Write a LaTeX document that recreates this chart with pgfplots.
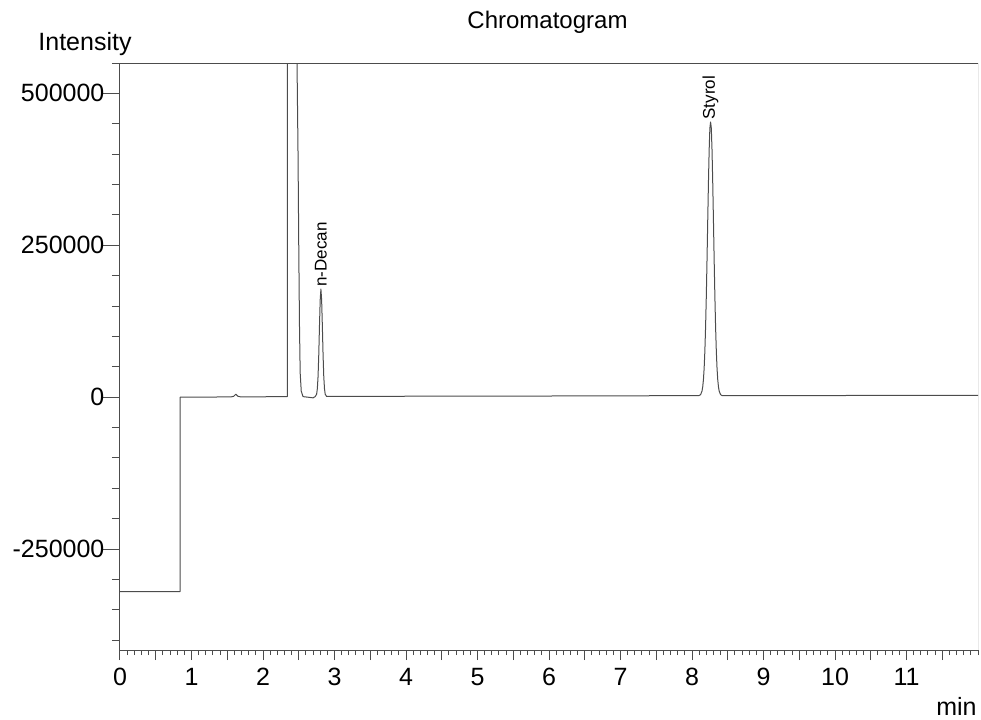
\documentclass[border=0pt]{standalone}
\usepackage{fontspec}
\setmainfont{Liberation Sans}
\usepackage{pgfplots}
\pgfplotsset{compat=1.18}

\begin{document}
\begin{tikzpicture}[x=1pt,y=1pt]
\path[use as bounding box] (0,0) rectangle (490.5,-359.5);
\begin{axis}[
  at={(60pt,-325pt)}, anchor=south west,
  scale only axis, width=429pt, height=293.5pt,
  xmin=0, xmax=12, ymin=-416000, ymax=550000,
  xtick={0,1,...,11}, xticklabels={0,1,2,3,4,5,6,7,8,9,10,11},
  ytick={-250000,0,250000,500000}, yticklabels={-250000,0,250000,500000},
  minor xtick={0,0.1,...,12},
  minor ytick={-400000,-350000,...,550000},
  extra x ticks={0.5,1.5,...,11.5}, extra x tick labels={},
  extra x tick style={/pgfplots/major tick length=3.5pt},
  tick align=outside,
  xtick style={/pgfplots/major tick length=5pt,/pgfplots/minor tick length=2.5pt},
  ytick style={/pgfplots/major tick length=8.5pt,/pgfplots/minor tick length=4pt},
  axis x line*=bottom, axis y line*=left,
  every outer x axis line/.append style={-},
  every outer y axis line/.append style={-},
  axis line style={black!70, line width=0.5pt},
  tick style={black!70, line width=0.5pt},
  tick label style={font=\fontsize{12.5}{15}\selectfont},
  xticklabel style={text height=9pt, text depth=0pt, yshift=-1pt},
  scaled y ticks=false,
  clip=true,
]
% top and right frame lines
\draw[black!70, line width=0.5pt] (rel axis cs:0,1) -- (rel axis cs:1,1) -- (rel axis cs:1,0);
\addplot[black!70, line width=0.5pt, line join=round] coordinates {
  (0,-320000) (0.84,-320000) (0.84,0)
  (1.55,500) (1.59,1500) (1.62,5000) (1.65,1500) (1.69,500)
  (2.33,1000) (2.34,1000) (2.343,700000)
  (2.465,700000) (2.475,560000) (2.49,400000) (2.50,250000) (2.51,120000)
  (2.52,40000) (2.535,10000) (2.56,1000) (2.70,-1000)
  (2.73,1000) (2.75,5000) (2.76,14000) (2.77,34000) (2.78,70000) (2.79,118000)
  (2.80,160000) (2.81,178000) (2.82,160000) (2.83,118000) (2.84,70000)
  (2.85,34000) (2.86,14000) (2.87,5000) (2.89,1200)
  (3.5,1500) (5,1800) (7,2200) (8.10,2800)
  (8.12,4200) (8.14,10100) (8.15,17200) (8.16,29100) (8.17,48100) (8.18,76300)
  (8.19,115500) (8.20,165800) (8.21,225500) (8.22,290300) (8.23,353500)
  (8.24,406900) (8.25,442900) (8.26,453000) (8.27,442900) (8.28,406900)
  (8.29,353500) (8.30,290300) (8.31,225500) (8.32,165800) (8.33,115500)
  (8.34,76300) (8.35,48100) (8.36,29100) (8.37,17200) (8.38,10100)
  (8.40,4200) (8.42,2800)
  (9,2700) (10,2800) (11,3000) (12,3000)
};
\node[rotate=90, anchor=west, inner sep=1pt, font=\fontsize{8.5}{10}\selectfont] at (axis cs:2.81,178000) {n-Decan};
\node[rotate=90, anchor=west, inner sep=1pt, font=\fontsize{8.5}{10}\selectfont] at (axis cs:8.26,453000) {Styrol};
\end{axis}
\node[anchor=base, font=\fontsize{12}{14}\selectfont] at (273.75,-14) {Chromatogram};
\node[anchor=base west, inner sep=0pt, font=\fontsize{12.5}{15}\selectfont] at (19,-25) {Intensity};
\node[anchor=base east, inner sep=0pt, font=\fontsize{12.5}{15}\selectfont] at (488.5,-357.5) {min};
\end{tikzpicture}
\end{document}
